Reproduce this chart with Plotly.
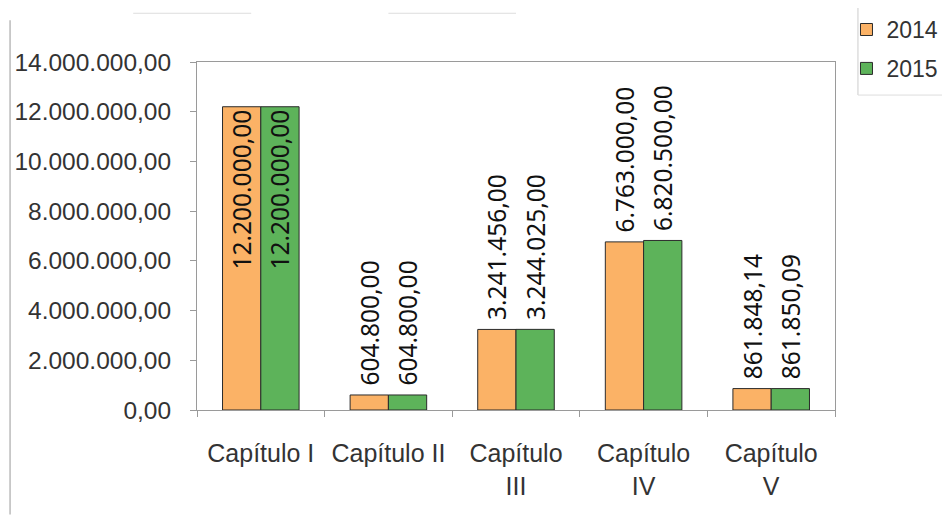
import plotly.graph_objects as go

categories = ["Capítulo I", "Capítulo II", "Capítulo<br>III", "Capítulo<br>IV", "Capítulo<br>V"]
values_2014 = [12200000.00, 604800.00, 3241456.00, 6763000.00, 861848.14]
values_2015 = [12200000.00, 604800.00, 3244025.00, 6820500.00, 861850.09]
labels_2014 = ["12.200.000,00", "604.800,00", "3.241.456,00", "6.763.000,00", "861.848,14"]
labels_2015 = ["12.200.000,00", "604.800,00", "3.244.025,00", "6.820.500,00", "861.850,09"]
tick_vals = [0, 2000000, 4000000, 6000000, 8000000, 10000000, 12000000, 14000000]
tick_text = ["0,00", "2.000.000,00", "4.000.000,00", "6.000.000,00", "8.000.000,00",
             "10.000.000,00", "12.000.000,00", "14.000.000,00"]
positions = ["inside", "outside", "outside", "outside", "outside"]

label_font = dict(family="Noto Sans, Open Sans, sans-serif", size=24.5, color="#111111")
pad_template = "\u00a0%{text}"

fig = go.Figure()
fig.add_trace(go.Bar(
    x=categories, y=values_2014, name="2014", legendgroup="a",
    marker=dict(color="#FBB266", line=dict(color="#2b2b2b", width=1)),
    text=labels_2014, texttemplate=pad_template, textposition=positions, textangle=-90,
    insidetextanchor="end", textfont=label_font, cliponaxis=False,
    constraintext="none",
))
fig.add_trace(go.Bar(
    x=categories, y=values_2015, name="2015", legendgroup="b",
    marker=dict(color="#5DB35A", line=dict(color="#2b2b2b", width=1)),
    text=labels_2015, texttemplate=pad_template, textposition=positions, textangle=-90,
    insidetextanchor="end", textfont=label_font, cliponaxis=False,
    constraintext="none",
))

fig.update_layout(
    width=942, height=507,
    margin=dict(l=189, r=115, t=54, b=105, autoexpand=False),
    paper_bgcolor="white", plot_bgcolor="white",
    barmode="group", bargap=0.4, bargroupgap=0,
    font=dict(family="Liberation Sans, Arial, sans-serif", size=24, color="#333333"),
    legend=dict(x=1.018, y=1.155, xanchor="left", yanchor="top",
                font=dict(size=23, color="#333333"), tracegroupgap=6,
                itemwidth=30, bgcolor="rgba(0,0,0,0)"),
    showlegend=True,
)
fig.update_xaxes(
    showline=True, linecolor="#9a9a9a", linewidth=1, mirror=True,
    ticks="outside", tickson="boundaries", ticklen=6, tickcolor="#9a9a9a",
    ticklabelstandoff=21, tickangle=0, automargin=False,
    showgrid=False, tickfont=dict(size=25, color="#333333"),
)
fig.update_yaxes(
    range=[0, 14000000], tickvals=tick_vals, ticktext=tick_text,
    showline=True, linecolor="#9a9a9a", linewidth=1, mirror=True,
    ticks="outside", ticklen=6, tickcolor="#9a9a9a",
    ticklabelstandoff=14, automargin=False,
    showgrid=False, zeroline=False, tickfont=dict(size=24.5, color="#333333"),
)
# outer chart border fragments (left edge, legend box, faint top strokes)
fig.add_shape(type="line", xref="paper", yref="paper", x0=-0.293, x1=-0.293, y0=-0.3, y1=1.12,
              line=dict(color="#bbbbbb", width=1.5))
fig.add_shape(type="line", xref="paper", yref="paper", x0=1.036, x1=1.036, y0=0.905, y1=1.16,
              line=dict(color="#cccccc", width=1))
fig.add_shape(type="line", xref="paper", yref="paper", x0=1.036, x1=1.2, y0=0.905, y1=0.905,
              line=dict(color="#dddddd", width=1))
fig.add_shape(type="line", xref="paper", yref="paper", x0=-0.1, x1=0.085, y0=1.14, y1=1.14,
              line=dict(color="#dddddd", width=1))
fig.add_shape(type="line", xref="paper", yref="paper", x0=0.3, x1=0.5, y0=1.14, y1=1.14,
              line=dict(color="#dddddd", width=1))

fig.write_html("out.html")
